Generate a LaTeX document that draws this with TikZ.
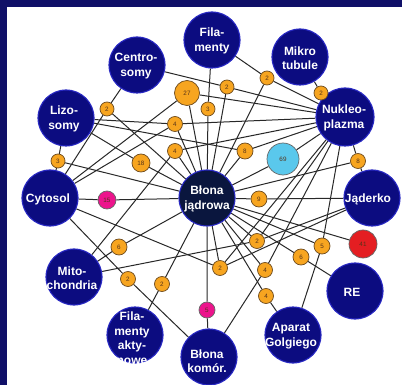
\documentclass[tikz,border=0pt]{standalone}
\usepackage{fontspec}
\setmainfont{Liberation Sans}
\pgfdeclarelayer{back}
\pgfdeclarelayer{edges}
\pgfsetlayers{back,edges,main}
\definecolor{navybg}{RGB}{16,16,104}
\definecolor{bignode}{RGB}{12,12,128}
\definecolor{bigrim}{RGB}{40,40,195}
\definecolor{hub}{RGB}{10,22,62}
\definecolor{orangen}{RGB}{247,165,32}
\definecolor{orrim}{RGB}{110,75,30}
\definecolor{magn}{RGB}{236,20,140}
\definecolor{redn}{RGB}{228,30,34}
\definecolor{cyann}{RGB}{90,200,236}
\definecolor{edgec}{RGB}{40,40,40}
\definecolor{numc}{RGB}{85,50,25}
\tikzset{
  big/.style={circle, fill=bignode, draw=bigrim, line width=1.1pt, minimum size=56pt, inner sep=0pt},
  bigtxt/.style={text=white, font=\fontsize{12}{14.5}\selectfont\bfseries, align=center, inner sep=0pt},
  sm/.style={circle, fill=orangen, draw=orrim, line width=0.7pt, inner sep=0pt, font=\fontsize{6.3}{7}\selectfont, text=numc},
  link/.style={draw=edgec, line width=1pt}
}
\begin{document}
\begin{tikzpicture}[x=1pt,y=-1pt]
\useasboundingbox (0,0) rectangle (402,385);
\begin{pgfonlayer}{back}
\fill[navybg] (0,0) rectangle (402,385);
\fill[white] (7,7) rectangle (402,385);
\end{pgfonlayer}
% big nodes
\node[big] (fil) at (212,40) {};
\node[big] (mik) at (300,57) {};
\node[big] (cen) at (137,65) {};
\node[big] (liz) at (66,118) {};
\node[big, minimum size=58pt] (nuk) at (345,117) {};
\node[big] (cyt) at (50,198) {};
\node[big, fill=hub] (bj) at (207,198) {};
\node[big] (jad) at (372,198) {};
\node[big] (re) at (355,291) {};
\node[big] (gol) at (293,335) {};
\node[big] (bk) at (209,357) {};
\node[big] (fa) at (135,335) {};
\node[big] (mit) at (74,277) {};
% texts
\node[bigtxt] (fil-t) at (212,41) {Fila-\\menty};
\node[bigtxt] (mik-t) at (300,58) {Mikro\\tubule};
\node[bigtxt] (cen-t) at (136,66) {Centro-\\somy};
\node[bigtxt] (liz-t) at (64,119) {Lizo-\\somy};
\node[bigtxt] (nuk-t) at (344,118) {Nukleo-\\plazma};
\node[bigtxt] (cyt-t) at (48,199) {Cytosol};
\node[bigtxt] (bj-t) at (207,199) {Błona\\jądrowa};
\node[bigtxt] (jad-t) at (368,199) {Jąderko};
\node[bigtxt] (re-t) at (352,292) {RE};
\node[bigtxt] (gol-t) at (291,336) {Aparat\\Golgiego};
\node[bigtxt] (bk-t) at (207,361) {Błona\\komór.};
\node[bigtxt] (fa-t) at (132,338) {Fila-\\menty\\akty-\\nowe};
\node[bigtxt] (mit-t) at (72,278) {Mito-\\chondria};
% small nodes
\node[sm, minimum size=14pt] (a2) at (107,109) {2};
\node[sm, minimum size=25pt] (n27) at (187,93) {27};
\node[sm, minimum size=14pt] (b3) at (208,109) {3};
\node[sm, minimum size=14pt] (c2) at (227,87) {2};
\node[sm, minimum size=14pt] (d2) at (267,78) {2};
\node[sm, minimum size=14pt] (e2) at (321,93) {2};
\node[sm, minimum size=15pt] (f4) at (175,124) {4};
\node[sm, minimum size=15pt] (g4) at (175,151) {4};
\node[sm, minimum size=18pt] (h18) at (141,163) {18};
\node[sm, minimum size=14pt] (i3) at (58,161) {3};
\node[sm, minimum size=16pt] (j8) at (245,151) {8};
\node[sm, minimum size=32pt, fill=cyann, draw=black!60] (k69) at (283,159) {69};
\node[sm, minimum size=15pt] (l8) at (358,161) {8};
\node[sm, minimum size=18pt, fill=magn, draw=black!60] (m15) at (107,200) {15};
\node[sm, minimum size=16pt] (n9) at (259,199) {9};
\node[sm, minimum size=15pt] (o2) at (257,241) {2};
\node[sm, minimum size=16pt] (p5) at (322,246) {5};
\node[sm, minimum size=16pt] (q6) at (301,257) {6};
\node[sm, minimum size=15pt] (r2) at (220,268) {2};
\node[sm, minimum size=15pt] (s4) at (265,270) {4};
\node[sm, minimum size=15pt] (t4) at (266,296) {4};
\node[sm, minimum size=16pt] (u6) at (119,247) {6};
\node[sm, minimum size=15pt] (v2) at (128,279) {2};
\node[sm, minimum size=15pt] (w2) at (162,284) {2};
\node[sm, minimum size=16pt, fill=magn, draw=black!60] (x5) at (207,310) {5};
\node[sm, minimum size=28pt, fill=redn, draw=black!60] (r41) at (363,244) {41};
% edges
\begin{pgfonlayer}{edges}
\draw[link] (a2)--(cen) (a2)--(cyt) (a2)--(bj);
\draw[link] (n27)--(cyt) (n27)--(bj) (n27)--(nuk);
\draw[link] (b3)--(fil) (b3)--(bj);
\draw[link] (c2)--(cen) (c2)--(nuk) (c2)--(bj);
\draw[link] (d2)--(fil) (d2)--(nuk) (d2)--(bj);
\draw[link] (e2)--(mik) (e2)--(nuk);
\draw[link] (f4)--(liz) (f4)--(nuk) (f4)--(cyt) (f4)--(bj);
\draw[link] (g4)--(mit) (g4)--(nuk) (g4)--(bj);
\draw[link] (h18)--(liz) (h18)--(bj);
\draw[link] (i3)--(liz) (i3)--(cyt) (i3)--(bj);
\draw[link] (j8)--(liz) (j8)--(nuk) (j8)--(bj);
\draw[link] (k69)--(nuk) (k69)--(bj);
\draw[link] (l8)--(nuk) (l8)--(jad) (l8)--(bj);
\draw[link] (m15)--(cyt) (m15)--(bj);
\draw[link] (n9)--(bj) (n9)--(jad);
\draw[link] (o2)--(mit) (o2)--(jad) (o2)--(bj) (o2)--(nuk);
\draw[link] (p5)--(nuk) (p5)--(gol) (p5)--(bj);
\draw[link] (q6)--(bj) (q6)--(re);
\draw[link] (r2)--(cyt) (r2)--(jad) (r2)--(bj) (r2)--(nuk);
\draw[link] (s4)--(bj) (s4)--(bk) (s4)--(nuk);
\draw[link] (t4)--(bj) (t4)--(gol);
\draw[link] (u6)--(mit) (u6)--(bj);
\draw[link] (v2)--(cyt) (v2)--(bk);
\draw[link] (w2)--(fa) (w2)--(bj);
\draw[link] (x5)--(bj) (x5)--(bk);
\draw[link] (r41)--(bj);
\end{pgfonlayer}
\end{tikzpicture}
\end{document}
